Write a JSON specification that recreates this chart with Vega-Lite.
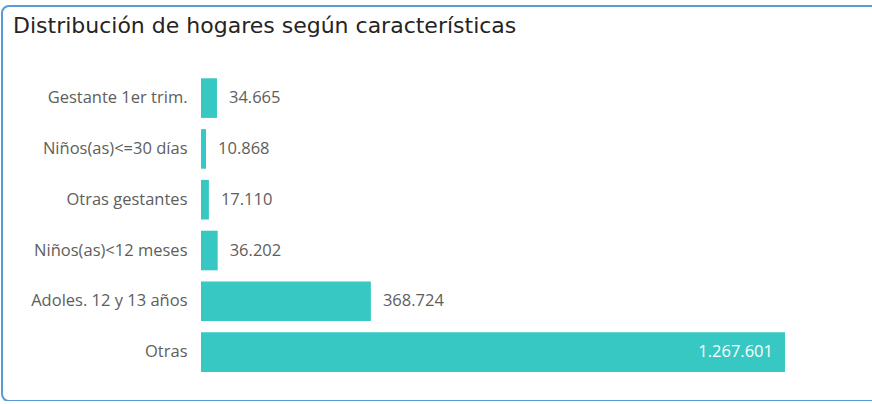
{
  "$schema": "https://vega.github.io/schema/vega-lite/v6.json",
  "autosize": {"type": "none"},
  "padding": {"left": 2, "top": 6, "right": -30, "bottom": 0},
  "width": 900,
  "height": 395,
  "background": "white",
  "config": {
    "view": {"stroke": "#5B9BD5", "strokeWidth": 2, "cornerRadius": 7, "fill": "white"},
    "font": "Open Sans"
  },
  "title": {
    "text": "Distribución de hogares según características",
    "anchor": "start",
    "frame": "group",
    "orient": "top",
    "offset": 0,
    "baseline": "alphabetic",
    "dx": 11,
    "dy": 49,
    "font": "DejaVu Sans",
    "fontSize": 22,
    "fontWeight": "normal",
    "color": "#252423"
  },
  "data": {
    "values": [
      {"cat": "Gestante 1er trim.", "value": 34665, "label": "34.665"},
      {"cat": "Niños(as)<=30 días", "value": 10868, "label": "10.868"},
      {"cat": "Otras gestantes", "value": 17110, "label": "17.110"},
      {"cat": "Niños(as)<12 meses", "value": 36202, "label": "36.202"},
      {"cat": "Adoles. 12 y 13 años", "value": 368724, "label": "368.724"},
      {"cat": "Otras", "value": 1267601, "label": "1.267.601"}
    ]
  },
  "encoding": {
    "y": {
      "field": "cat",
      "type": "nominal",
      "sort": null,
      "scale": {"range": [66.7, 371.5], "paddingInner": 0.22, "paddingOuter": 0.11},
      "axis": {
        "title": null,
        "orient": "left",
        "offset": -199,
        "ticks": false,
        "tickSize": 0,
        "domain": false,
        "labelPadding": 14,
        "labelFont": "Open Sans",
        "labelFontSize": 16.5,
        "labelColor": "#605E5C",
        "labelLimit": 300
      }
    },
    "x": {
      "field": "value",
      "type": "quantitative",
      "scale": {"domain": [0, 1267601], "range": [199, 783], "nice": false, "zero": true},
      "axis": null
    }
  },
  "layer": [
    {"mark": {"type": "bar", "color": "#37C8C3"}},
    {
      "transform": [{"filter": "datum.value < 1000000"}],
      "mark": {"type": "text", "align": "left", "baseline": "middle", "dx": 12, "font": "Open Sans", "fontSize": 16.5, "color": "#605E5C"},
      "encoding": {"text": {"field": "label"}}
    },
    {
      "transform": [{"filter": "datum.value >= 1000000"}],
      "mark": {"type": "text", "align": "right", "baseline": "middle", "dx": -12, "font": "Open Sans", "fontSize": 16.5, "color": "white"},
      "encoding": {"text": {"field": "label"}}
    }
  ]
}
